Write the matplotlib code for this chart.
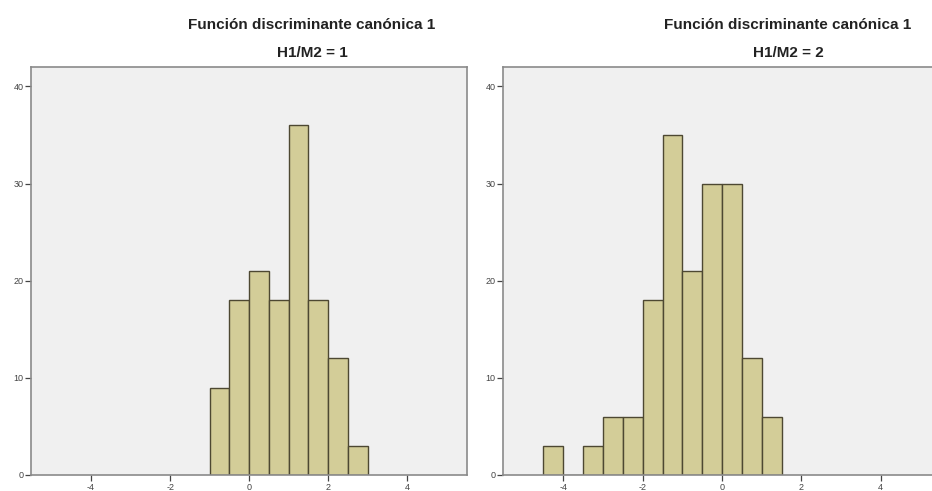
import numpy as np
import matplotlib
matplotlib.use("Agg")
import matplotlib.pyplot as plt

plt.rcParams["font.family"] = ["Liberation Sans", "DejaVu Sans"]
plt.rcParams["axes.unicode_minus"] = False

# bin edges (width 0.5) and counts
bins_1 = np.arange(-1.0, 3.01, 0.5)
counts_1 = [9, 18, 21, 18, 36, 18, 12, 3]

bins_2 = np.arange(-4.5, 1.51, 0.5)
counts_2 = [3, 0, 3, 6, 6, 18, 35, 21, 30, 30, 12, 6]

title_top = "Función discriminante canónica 1"
groups = ["H1/M2 = 1", "H1/M2 = 2"]
x_ticks = [-4, -2, 0, 2, 4]
y_ticks = [0, 10, 20, 30, 40]

bar_color = "#d3cd98"
edge_color = "#4d4832"
frame_color = "#8a8a8a"

fig = plt.figure(figsize=(9.32, 4.91), dpi=100)

# left, bottom, width, height in figure fractions
boxes = [[0.0333, 0.0326, 0.468, 0.831],
         [0.5397, 0.0326, 0.470, 0.831]]
centers = [312 / 932, 788 / 932]

for i, (edges, counts) in enumerate([(bins_1, counts_1), (bins_2, counts_2)]):
    ax = fig.add_axes(boxes[i])
    ax.set_facecolor("#f0f0f0")
    ax.bar(edges[:-1], counts, width=np.diff(edges), align="edge",
           color=bar_color, edgecolor=edge_color, linewidth=1.0)
    ax.set_xlim(-5.52, 5.52)
    ax.set_ylim(0, 42)
    ax.set_xticks(x_ticks)
    ax.set_yticks(y_ticks)
    ax.tick_params(labelsize=6.5, colors="#444444", length=4, width=0.9,
                   pad=1.5)
    for s in ax.spines.values():
        s.set_color(frame_color)
        s.set_linewidth(1.2)
    if i == 1:
        ax.spines["right"].set_visible(False)
    fig.text(centers[i], 1 - 25 / 491, title_top, ha="center", va="center",
             fontsize=11, fontweight="bold", color="#222222")
    fig.text(centers[i], 1 - 53 / 491, groups[i], ha="center", va="center",
             fontsize=11, fontweight="bold", color="#222222")

fig.savefig("out.png", dpi=100, facecolor="white")
